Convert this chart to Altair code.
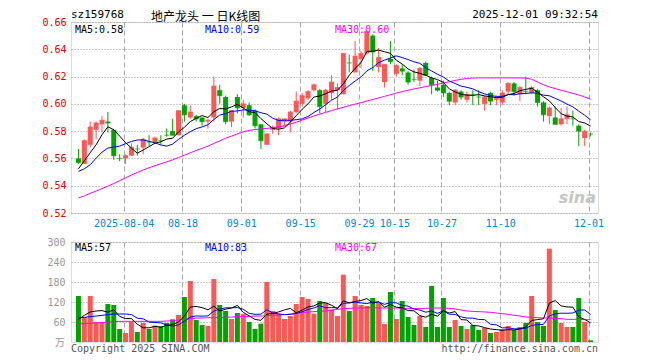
import altair as alt
import pandas as pd

# ---------------- data ----------------
tick_index = [8, 18, 28, 38, 48, 54, 62, 72, 87]
tick_labels = ["2025-08-04", "08-18", "09-01", "09-15", "09-29", "10-15", "10-27", "11-10", "12-01"]
price_ticks = [0.52, 0.54, 0.56, 0.58, 0.60, 0.62, 0.64, 0.66]
volume_ticks = [60, 120, 180, 240, 300]
price_legend = ["MA5:0.58", "MA10:0.59", "MA30:0.60"]
volume_legend = ["MA5:57", "MA10:83", "MA30:67"]

open_ = [0.560, 0.556, 0.570, 0.581, 0.585, 0.587, 0.581, 0.560, 0.560, 0.562,
         0.567, 0.568, 0.572, 0.572, 0.573, 0.577, 0.580, 0.577, 0.599, 0.590,
         0.591, 0.590, 0.587, 0.590, 0.610, 0.605, 0.587, 0.605, 0.597, 0.599,
         0.595, 0.585, 0.570, 0.581, 0.582, 0.587, 0.587, 0.594, 0.600, 0.604,
         0.610, 0.610, 0.600, 0.608, 0.610, 0.607, 0.630, 0.623, 0.633, 0.637,
         0.650, 0.627, 0.616, 0.633, 0.622, 0.626, 0.623, 0.618, 0.617, 0.630,
         0.619, 0.612, 0.614, 0.608, 0.601, 0.609, 0.603, 0.607, 0.605, 0.600,
         0.608, 0.603, 0.601, 0.609, 0.615, 0.607, 0.609, 0.608, 0.610, 0.601,
         0.591, 0.590, 0.585, 0.589, 0.589, 0.584, 0.575, 0.578]
close = [0.557, 0.573, 0.583, 0.586, 0.588, 0.586, 0.562, 0.560, 0.562, 0.568,
         0.567, 0.574, 0.572, 0.575, 0.573, 0.577, 0.577, 0.595, 0.592, 0.594,
         0.589, 0.587, 0.588, 0.613, 0.606, 0.587, 0.595, 0.597, 0.600, 0.592,
         0.584, 0.573, 0.578, 0.583, 0.589, 0.589, 0.594, 0.602, 0.606, 0.609,
         0.614, 0.598, 0.610, 0.616, 0.612, 0.637, 0.630, 0.635, 0.637, 0.653,
         0.638, 0.634, 0.629, 0.631, 0.628, 0.624, 0.616, 0.618, 0.626, 0.621,
         0.614, 0.610, 0.608, 0.602, 0.610, 0.605, 0.607, 0.607, 0.605, 0.605,
         0.602, 0.604, 0.608, 0.615, 0.609, 0.612, 0.609, 0.612, 0.601, 0.592,
         0.597, 0.585, 0.589, 0.592, 0.589, 0.580, 0.580, 0.578]
high = [0.567, 0.574, 0.587, 0.587, 0.591, 0.594, 0.581, 0.563, 0.563, 0.571,
        0.570, 0.575, 0.577, 0.576, 0.577, 0.582, 0.589, 0.595, 0.600, 0.599,
        0.592, 0.590, 0.589, 0.620, 0.614, 0.606, 0.595, 0.607, 0.603, 0.601,
        0.596, 0.585, 0.578, 0.584, 0.590, 0.589, 0.595, 0.609, 0.608, 0.610,
        0.615, 0.611, 0.611, 0.621, 0.615, 0.637, 0.636, 0.646, 0.639, 0.654,
        0.651, 0.641, 0.629, 0.646, 0.629, 0.629, 0.624, 0.625, 0.627, 0.631,
        0.620, 0.617, 0.617, 0.609, 0.611, 0.610, 0.609, 0.610, 0.610, 0.606,
        0.609, 0.606, 0.610, 0.616, 0.616, 0.613, 0.620, 0.613, 0.611, 0.602,
        0.598, 0.598, 0.597, 0.598, 0.595, 0.585, 0.581, 0.579]
low = [0.556, 0.556, 0.568, 0.574, 0.579, 0.579, 0.559, 0.558, 0.556, 0.562,
       0.562, 0.563, 0.569, 0.571, 0.570, 0.576, 0.577, 0.577, 0.587, 0.589,
       0.587, 0.584, 0.582, 0.587, 0.600, 0.585, 0.583, 0.593, 0.590, 0.591,
       0.582, 0.567, 0.570, 0.578, 0.577, 0.583, 0.579, 0.593, 0.598, 0.603,
       0.609, 0.593, 0.594, 0.603, 0.596, 0.607, 0.623, 0.623, 0.626, 0.636,
       0.624, 0.623, 0.612, 0.629, 0.620, 0.621, 0.614, 0.616, 0.613, 0.621,
       0.607, 0.609, 0.605, 0.599, 0.599, 0.603, 0.601, 0.599, 0.599, 0.595,
       0.599, 0.599, 0.599, 0.607, 0.606, 0.602, 0.607, 0.607, 0.598, 0.587,
       0.585, 0.585, 0.584, 0.585, 0.584, 0.569, 0.569, 0.576]
volume = [138, 75, 138, 60, 60, 114, 111, 39, 27, 60,
          30, 57, 39, 49, 47, 57, 68, 81, 135, 183,
          66, 51, 48, 189, 111, 93, 69, 87, 84, 60,
          39, 55, 180, 93, 84, 69, 78, 114, 135, 129,
          85, 123, 117, 97, 78, 202, 93, 138, 111, 108,
          132, 117, 54, 150, 69, 123, 75, 51, 78, 45,
          168, 45, 132, 45, 66, 48, 39, 51, 36, 42,
          27, 30, 39, 48, 36, 45, 57, 138, 60, 48,
          280, 96, 57, 45, 45, 132, 60, 5]
ma30 = [0.5309, 0.5326, 0.5344, 0.5361, 0.5379, 0.5397, 0.5416, 0.5437, 0.5458, 0.5478,
        0.5497, 0.5515, 0.5532, 0.5547, 0.5561, 0.5575, 0.5590, 0.5607, 0.5624, 0.5641,
        0.5658, 0.5674, 0.5690, 0.5710, 0.5729, 0.5748, 0.5764, 0.5780, 0.5795, 0.5805,
        0.5812, 0.5816, 0.5820, 0.5825, 0.5831, 0.5840, 0.5852, 0.5866, 0.5881, 0.5896,
        0.5911, 0.5925, 0.5938, 0.5951, 0.5963, 0.5975, 0.5987, 0.5998, 0.6009, 0.6021,
        0.6032, 0.6043, 0.6055, 0.6067, 0.6079, 0.6090, 0.6100, 0.6109, 0.6118, 0.6127,
        0.6135, 0.6144, 0.6153, 0.6162, 0.6172, 0.6180, 0.6186, 0.6189, 0.6190, 0.6190,
        0.6190, 0.6190, 0.6190, 0.6190, 0.6190, 0.6190, 0.6189, 0.6180, 0.6160, 0.6140,
        0.6124, 0.6112, 0.6100, 0.6089, 0.6077, 0.6065, 0.6050, 0.6035]
vol_ma30 = [54, 55, 56, 57, 58, 60, 61, 62, 62, 62,
            62, 62, 62, 62, 62, 63, 64, 66, 68, 70,
            72, 72, 73, 73, 74, 74, 75, 76, 77, 77,
            78, 78, 79, 80, 81, 82, 84, 86, 88, 90,
            91, 92, 93, 96, 98, 100, 101, 102, 102, 103,
            103, 102, 102, 102, 102, 101, 101, 100, 100, 101,
            102, 102, 102, 101, 99, 96, 93, 92, 91, 90,
            89, 87, 85, 83, 80, 78, 75, 74, 73, 72,
            72, 71, 70, 68, 68, 68, 67, 67]
# moving-average values at the start of the window (earlier sessions are not shown)
ma5_head = [0.5524, 0.5583, 0.5642, 0.5700]
ma10_head = [0.5505, 0.5524, 0.5554, 0.5602, 0.5646, 0.5676, 0.5683, 0.5690, 0.5708]
vol_ma5_head = [68, 80, 90, 93]
vol_ma10_head = [72, 74, 76, 78, 80, 82, 84, 84, 84]

# ---------------- table ----------------
df = pd.DataFrame({"i": list(range(len(close))), "open": open_, "high": high,
                   "low": low, "close": close, "volume": volume,
                   "ma30": ma30, "vma30": vol_ma30})
df["dir"] = ["up" if c > o else "down" for o, c in zip(open_, close)]
m5 = df["close"].rolling(5).mean().tolist(); m5[:4] = ma5_head
m10 = df["close"].rolling(10).mean().tolist(); m10[:9] = ma10_head
v5 = df["volume"].rolling(5).mean().tolist(); v5[:4] = vol_ma5_head
v10 = df["volume"].rolling(10).mean().tolist(); v10[:9] = vol_ma10_head
df["ma5"], df["ma10"], df["vma5"], df["vma10"] = m5, m10, v5, v10

# ---------------- style ----------------
MONO = "DejaVu Sans Mono"
CJK = "Noto Sans CJK SC"
RED, GREEN = "#ff5656", "#00a300"
W, H1, H2 = 527, 191, 100
GRIDC = "#a8a8a8"

xs = alt.Scale(domain=[-5 / 12, 87 + 5 / 12], nice=False, zero=False)
tick_pos = [t - 1 / 3 for t in tick_index]
lab_expr = "".join(f"abs(datum.value - {p:.4f}) < 0.5 ? '{l}' : " for p, l in zip(tick_pos, tick_labels)) + "''"

x_top = alt.X("i:Q", scale=xs, axis=alt.Axis(
    values=tick_pos, labelExpr=lab_expr, grid=True, gridDash=[5, 3], gridColor=GRIDC,
    ticks=False, domain=False, labelColor="#0a86d0", labelFont=MONO, labelFontSize=10,
    labelPadding=5, labelFlush=False, labelOverlap=False, title=None))
x_bot = alt.X("i:Q", scale=xs, axis=alt.Axis(
    values=tick_pos, labels=False, grid=True, gridDash=[5, 3], gridColor=GRIDC,
    ticks=False, domain=False, title=None))

ys = alt.Scale(domain=[0.52, 0.66], nice=False, zero=False)
y_ax = alt.Axis(values=price_ticks, format=".2f", grid=True, gridDash=[1, 2], gridColor="#999999",
                ticks=False, domain=False, labelColor="#e00000", labelFont=MONO, labelFontSize=10,
                labelPadding=5, title=None)
vs = alt.Scale(domain=[0, 300], nice=False)
v_ax = alt.Axis(values=volume_ticks, grid=True, gridDash=[1, 2], gridColor="#999999",
                ticks=False, domain=False, labelColor="#999999", labelFont=MONO, labelFontSize=10,
                labelPadding=6, title=None)
col = alt.Color("dir:N", scale=alt.Scale(domain=["up", "down"], range=[RED, GREEN]), legend=None)


def yP(f):
    return alt.Y(f"{f}:Q", scale=ys, axis=y_ax)


def yV(f):
    return alt.Y(f"{f}:Q", scale=vs, axis=v_ax)


def label(text, x, y, color, size=10, align="left", font=MONO, **kw):
    return alt.Chart(pd.DataFrame({"t": [text]})).mark_text(
        align=align, baseline="middle", font=font, fontSize=size, color=color, **kw
    ).encode(text="t:N", x=alt.value(x), y=alt.value(y))


base = alt.Chart(df)

wick = base.mark_rule(strokeWidth=1).encode(x=x_top, y=yP("low"), y2="high:Q", color=col)
body = base.mark_bar(size=5).encode(x=x_top, y=yP("open"), y2="close:Q", color=col)
flat = base.mark_tick(orient="horizontal", size=5, thickness=1).encode(x=x_top, y=yP("close"), color=col)
p5 = base.mark_line(color="black", strokeWidth=1).encode(x=x_top, y=yP("ma5"))
p10 = base.mark_line(color="#0000ff", strokeWidth=1).encode(x=x_top, y=yP("ma10"))
p30 = base.mark_line(color="#ff00ff", strokeWidth=1).encode(x=x_top, y=yP("ma30"))

anchor = alt.Chart(pd.DataFrame({"a": [0]})).mark_rule(opacity=0).encode(
    x=alt.value(-62), x2=alt.value(-62), y=alt.value(-12), y2=alt.value(-11))

top = alt.layer(
    wick, body, flat, p30, p10, p5,
    label(price_legend[0], 4, 7.5, "black"),
    label(price_legend[1], 134, 7.5, "#0000ff"),
    label(price_legend[2], 264, 7.5, "#ff00ff"),
    label("sz159768", 0, -7, "black", size=11),
    label("地产龙头 一 日K线图", 80, -5, "black", size=12, font=CJK),
    label("2025-12-01 09:32:54", 527, -7, "black", size=11, align="right"),
    label("sina", 525, 176, "#c4c4c4", size=16, align="right", font="DejaVu Sans",
          fontStyle="italic", fontWeight="bold"),
    anchor,
).properties(width=W, height=H1)

vbar = base.mark_bar(size=5).encode(x=x_bot, y=yV("volume"), color=col)
q5 = base.mark_line(color="black", strokeWidth=1).encode(x=x_bot, y=yV("vma5"))
q10 = base.mark_line(color="#0000ff", strokeWidth=1).encode(x=x_bot, y=yV("vma10"))
q30 = base.mark_line(color="#ff00ff", strokeWidth=1).encode(x=x_bot, y=yV("vma30"))

bottom = alt.layer(
    vbar, q30, q10, q5,
    label(volume_legend[0], 4, 6, "black"),
    label(volume_legend[1], 134, 6, "#0000ff"),
    label(volume_legend[2], 264, 6, "#ff00ff"),
    label("万", -6, 101, "#999999", size=10, align="right", font=CJK),
    label("Copyright 2025 SINA.COM", 0, 107, "#555555"),
    label("http://finance.sina.com.cn", 527, 107, "#555555", align="right"),
).properties(width=W, height=H2)

chart = alt.vconcat(top, bottom, spacing=29, bounds="flush", padding=0).configure_view(
    stroke="#a0a0a0", strokeWidth=2
).configure(background="white")

chart.save("out.html", embed_options={"renderer": "svg", "actions": False})
